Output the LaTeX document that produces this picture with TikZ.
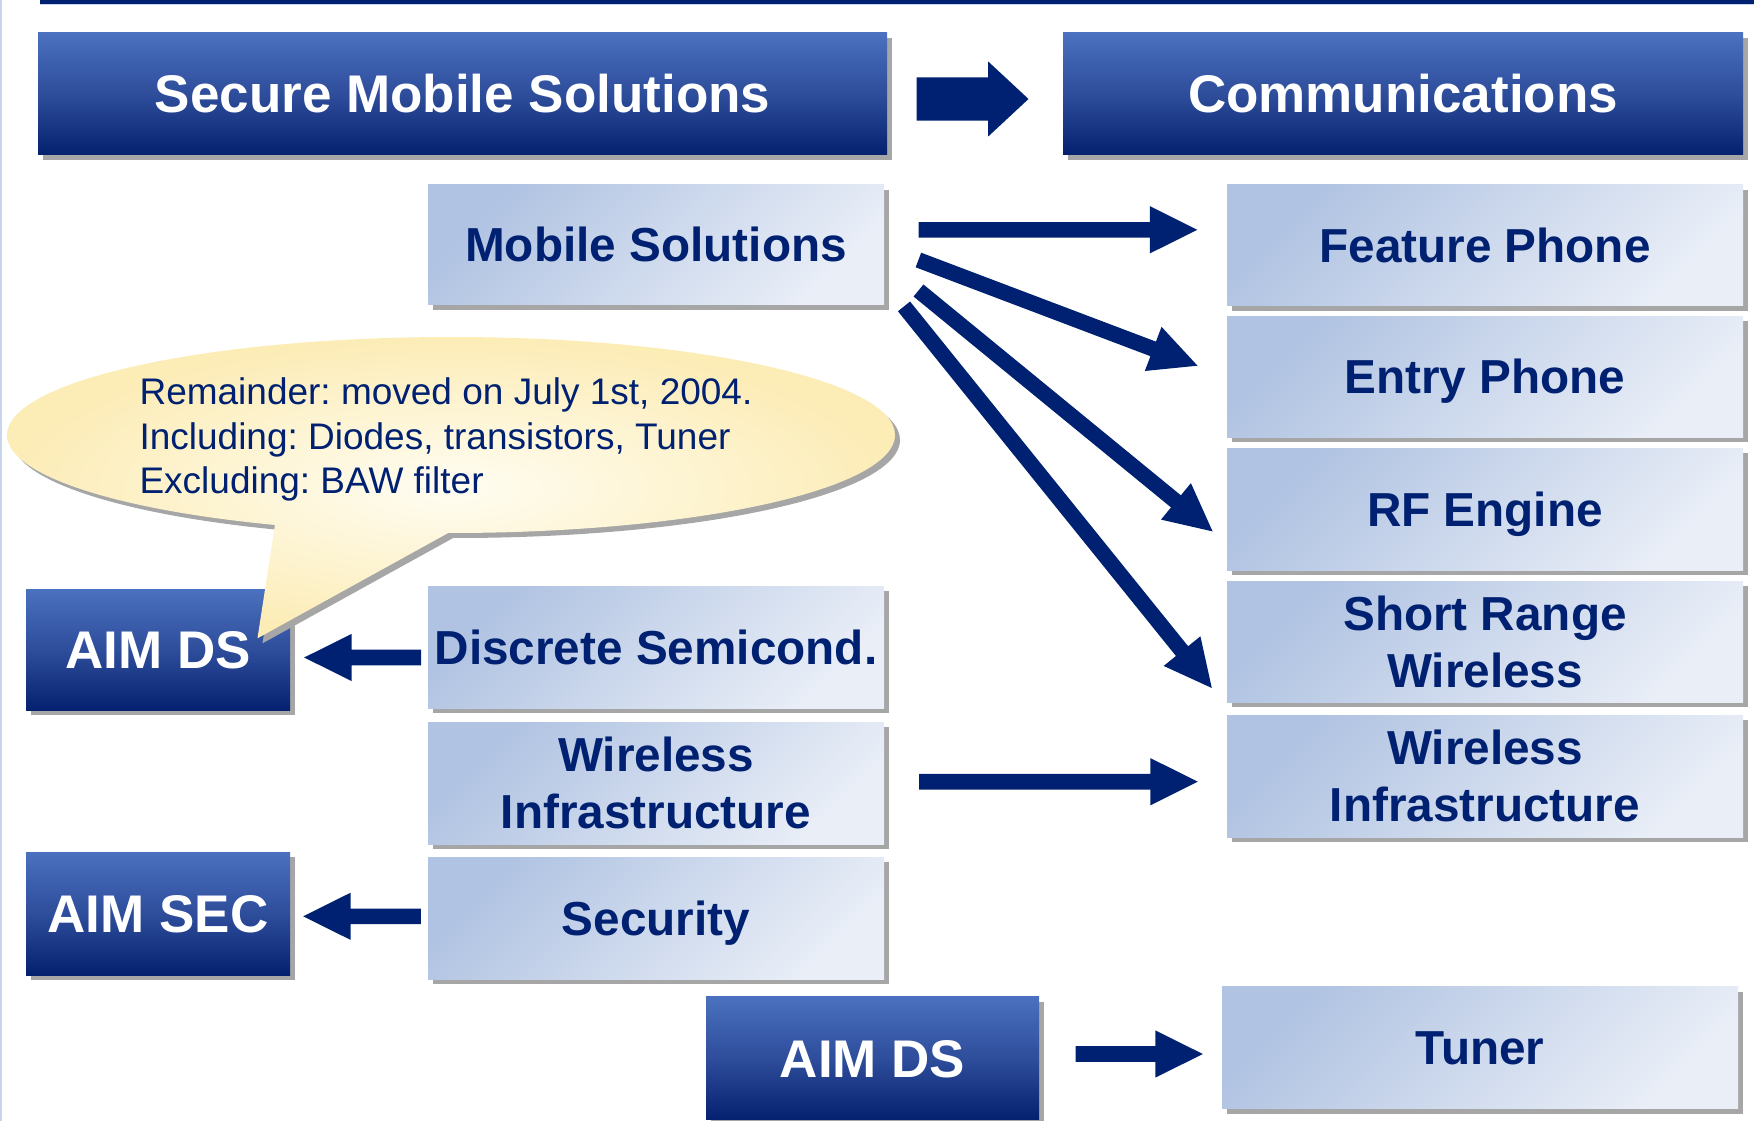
\documentclass[tikz,border=0pt]{standalone}
\usepackage{fontspec}
\setmainfont{Liberation Sans}
\usetikzlibrary{calc,shadows,shapes.callouts}
\frenchspacing

\definecolor{navy}{RGB}{0,33,113}
\definecolor{darktop}{RGB}{74,113,191}
\definecolor{darkmid}{RGB}{46,77,155}
\definecolor{darkbot}{RGB}{4,33,111}
\definecolor{lighttl}{RGB}{176,195,226}
\definecolor{lightbr}{RGB}{233,238,247}
\definecolor{shadowgray}{RGB}{166,166,166}
\definecolor{noteedge}{RGB}{252,236,182}
\definecolor{notecore}{RGB}{255,253,242}
\definecolor{edgeline}{RGB}{200,213,236}

\tikzset{
  boxshadow/.style={drop shadow={shadow xshift=5pt, shadow yshift=-5pt, fill=shadowgray, opacity=1}},
  darkbox/.style={rectangle, inner sep=0pt, boxshadow,
    top color=darktop, bottom color=darkbot, middle color=darkmid,
    text=white, font=\fontsize{53}{63}\selectfont\bfseries,
    text height=38pt, text depth=0pt},
  lightbox/.style={rectangle, inner sep=0pt, boxshadow,
    top color=lighttl, bottom color=lightbr, shading angle=45,
    text=navy, font=\fontsize{47.7}{57}\selectfont\bfseries, align=center},
  oneline/.style={text height=34.2pt, text depth=0pt},
  arrowfill/.style={fill=navy},
  notestyle/.style={ellipse callout, inner sep=0pt, boxshadow,
    shading=radial, inner color=notecore, outer color=noteedge,
    text=navy, font=\fontsize{37}{44.5}\selectfont, align=left},
}

% block arrow: start, tip, half shaft width, half head width, head length
\newcommand\flowarrow[5]{%
  \coordinate (neck) at ($(#2)!#5!(#1)$);
  \fill[arrowfill] ($(#1)!#3!90:(#2)$) -- ($(neck)!#3!-90:(#1)$)
    -- ($(neck)!#4!-90:(#1)$) -- (#2) -- ($(neck)!#4!90:(#1)$)
    -- ($(neck)!#3!90:(#1)$) -- ($(#1)!#3!-90:(#2)$) -- cycle;
}
\newcommand\slimarrow[2]{\flowarrow{#1}{#2}{7.8pt}{23.6pt}{47.4pt}}

\begin{document}
\begin{tikzpicture}[x=1pt, y=-1pt]
\useasboundingbox (0,0) rectangle (1754,1121);

% frame lines
\fill[edgeline] (0,0) rectangle (2,1121);
\fill[navy] (39.5,0) rectangle (1754,4.3);
\fill[edgeline] (39.5,4.3) rectangle (1754,5.3);

% headers
\node[darkbox, minimum width=849pt, minimum height=122pt] (smsol) at (462.5,94) {Secure Mobile Solutions};
\node[darkbox, minimum width=680pt, minimum height=122pt] (comm) at (1403,94) {Communications};

% middle column
\node[lightbox, oneline, minimum width=456pt, minimum height=120pt] (ms) at (656,244.5) {Mobile Solutions};
\node[lightbox, oneline, minimum width=456pt, minimum height=122pt] (ds) at (656,647) {Discrete Semicond.};
\node[lightbox, minimum width=456pt, minimum height=122pt] (wi1) at (656,783) {Wireless\\Infrastructure};
\node[lightbox, oneline, minimum width=456pt, minimum height=122pt] (sec) at (656,918) {Security};

% right column
\node[lightbox, oneline, minimum width=516pt, minimum height=121pt] (fp) at (1485,245) {Feature Phone};
\node[lightbox, oneline, minimum width=516pt, minimum height=121pt] (ep) at (1485,376.8) {Entry Phone};
\node[lightbox, oneline, minimum width=516pt, minimum height=122pt] (rf) at (1485,509) {RF Engine};
\node[lightbox, minimum width=516pt, minimum height=121pt] (srw) at (1485,641.8) {Short Range\\Wireless};
\node[lightbox, minimum width=516pt, minimum height=122pt] (wi2) at (1485,776) {Wireless\\Infrastructure};
\node[lightbox, oneline, minimum width=516pt, minimum height=122pt] (tuner) at (1480,1047.5) {Tuner};

% left column
\node[darkbox, minimum width=264pt, minimum height=121pt] (aimds1) at (158,649.7) {AIM DS};
\node[darkbox, minimum width=264pt, minimum height=123pt] (aimsec) at (158,913.5) {AIM SEC};
\node[darkbox, minimum width=333pt, minimum height=123pt] (aimds2) at (872.5,1058.3) {AIM DS};

% note on the remainder
\node[notestyle, minimum width=888pt, minimum height=196pt, callout pointer arc=23,
      callout absolute pointer={($(aimds1.north east)+(-32.7,49.3)$)}] (note) at (451,435)
  {\rule{0pt}{36pt}Remainder: moved on July 1st, 2004.\hspace*{10pt}\\Including: Diodes, transistors, Tuner\\Excluding: BAW filter};

% connectors
\coordinate (a9s) at ($(smsol.east)+(29.3,5)$);
\coordinate (a9e) at ($(comm.west)+(-34.3,5)$);
\flowarrow{a9s}{a9e}{21.7pt}{37.5pt}{40.3pt}

\coordinate (a1s) at ($(ms.east)+(34.3,-14.7)$);
\coordinate (a1e) at ($(fp.west)+(-29.5,-15.2)$);
\slimarrow{a1s}{a1e}
\coordinate (a2s) at ($(ms.east)+(34.2,15.5)$);
\coordinate (a2e) at ($(ep.west)+(-29.3,-11.1)$);
\slimarrow{a2s}{a2e}
\coordinate (a3s) at ($(ms.east)+(34.3,46)$);
\coordinate (a3e) at ($(rf.west)+(-14.2,22.4)$);
\slimarrow{a3s}{a3e}
\coordinate (a4s) at ($(ms.south east)+(19.8,1.7)$);
\coordinate (a4e) at ($(srw.west)+(-15,46.2)$);
\slimarrow{a4s}{a4e}

\coordinate (a5s) at ($(wi1.east)+(35,-1.3)$);
\coordinate (a5e) at ($(wi2.west)+(-29,5.7)$);
\slimarrow{a5s}{a5e}
\coordinate (a6s) at ($(aimds2.east)+(36.5,-4.3)$);
\coordinate (a6e) at ($(tuner.west)+(-19,6.5)$);
\slimarrow{a6s}{a6e}
\coordinate (a7s) at ($(ds.west)+(-6.7,10.5)$);
\coordinate (a7e) at ($(aimds1.east)+(14,7.8)$);
\slimarrow{a7s}{a7e}
\coordinate (a8s) at ($(sec.west)+(-7,-1.7)$);
\coordinate (a8e) at ($(aimsec.east)+(13,2.8)$);
\slimarrow{a8s}{a8e}
\end{tikzpicture}
\end{document}
